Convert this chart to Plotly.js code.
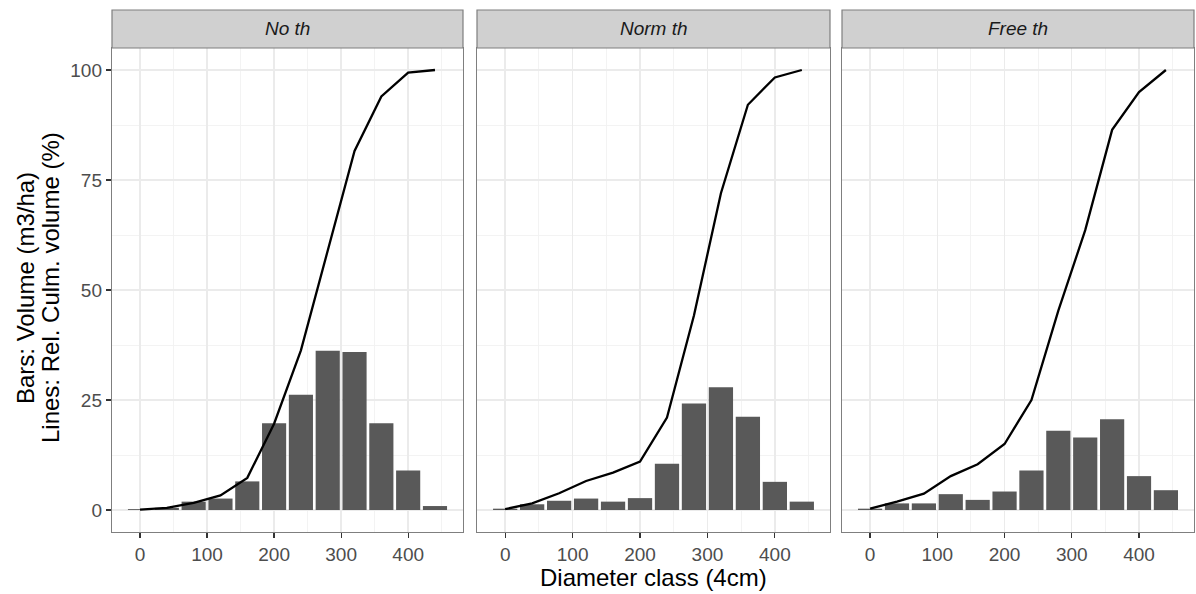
<!DOCTYPE html>
<html>
<head>
<meta charset="utf-8">
<script src="https://cdn.plot.ly/plotly-3.0.1.min.js"></script>
<style>html,body{margin:0;padding:0;background:#fff;}#chart{width:1196px;height:594px;}</style>
</head>
<body>
<div id="chart"></div>
<script>
// Diameter classes (x positions)
const diamClass = [0, 40, 80, 120, 160, 200, 240, 280, 320, 360, 400, 440];
// Panel names
const panelNames = ['No th', 'Norm th', 'Free th'];
// Bars: Volume (m3/ha)
const volNoTh   = [0.2, 0.5, 1.9, 2.6, 6.5, 19.7, 26.2, 36.2, 35.9, 19.7, 9.0, 0.9];
const volNormTh = [0.3, 1.3, 2.1, 2.6, 1.9, 2.7, 10.5, 24.2, 27.9, 21.2, 6.4, 1.9];
const volFreeTh = [0.3, 1.5, 1.5, 3.6, 2.3, 4.2, 9.0, 18.0, 16.5, 20.6, 7.7, 4.5];
// Lines: relative cumulative volume (%)
const cumNoTh   = [0.1, 0.5, 1.6, 3.3, 7.3, 19.6, 36.3, 59.2, 81.6, 94.0, 99.4, 100];
const cumNormTh = [0.2, 1.5, 3.8, 6.6, 8.5, 11.0, 21.0, 44.2, 72.0, 92.1, 98.3, 100];
const cumFreeTh = [0.3, 1.9, 3.7, 7.7, 10.4, 15.0, 25.0, 45.3, 63.6, 86.4, 95.0, 100];
// Axis ticks
const xTickStep = 100;
const yTickStep = 25;
const xTitle = 'Diameter class (4cm)';
const yTitleLines = ['Bars: Volume (m3/ha)', 'Lines: Rel. Culm. volume (%)'];

const vols = [volNoTh, volNormTh, volFreeTh];
const cums = [cumNoTh, cumNormTh, cumFreeTh];

const W = 1196, H = 594;
const mL = 112, mR = 2, mT = 48, mB = 62;
const plotW = W - mL - mR, plotH = H - mT - mB;
const pxDomains = [[112, 463], [477, 830], [842, 1194]];
const domains = pxDomains.map(d => [(d[0] - mL) / plotW, (d[1] - mL) / plotW]);

const FONT = 'Liberation Sans, Arial, Helvetica, sans-serif';
const borderColor = '#7f7f7f';
const traces = [];
for (let i = 0; i < 3; i++) {
  const xa = i === 0 ? 'x' : 'x' + (i + 1);
  const ya = i === 0 ? 'y' : 'y' + (i + 1);
  traces.push({
    type: 'bar', x: diamClass, y: vols[i], width: diamClass.map(() => 36),
    marker: {color: '#595959', line: {width: 0}},
    xaxis: xa, yaxis: ya, showlegend: false, hoverinfo: 'x+y'
  });
  traces.push({
    type: 'scatter', mode: 'lines', x: diamClass, y: cums[i],
    line: {color: '#000000', width: 2.3},
    xaxis: xa, yaxis: ya, showlegend: false
  });
}

const layout = {
  width: W, height: H,
  margin: {l: mL, r: mR, t: mT, b: mB},
  paper_bgcolor: '#ffffff', plot_bgcolor: '#ffffff',
  font: {family: FONT},
  shapes: [], annotations: []
};

for (let i = 0; i < 3; i++) {
  const xk = i === 0 ? 'xaxis' : 'xaxis' + (i + 1);
  const yk = i === 0 ? 'yaxis' : 'yaxis' + (i + 1);
  const ya = i === 0 ? 'y' : 'y' + (i + 1);
  const xa = i === 0 ? 'x' : 'x' + (i + 1);
  layout[xk] = {
    domain: domains[i], anchor: ya, range: [-41.8, 481.8],
    tickmode: 'linear', tick0: 0, dtick: xTickStep,
    ticks: 'outside', ticklen: 5, tickwidth: 1.2, tickcolor: '#333333',
    tickfont: {size: 19, color: '#4D4D4D', family: FONT},
    showline: true, mirror: true, linecolor: borderColor, linewidth: 1.2,
    showgrid: true, gridcolor: '#EBEBEB', gridwidth: 1.4, zeroline: false,
    minor: {dtick: 50, tick0: 0, showgrid: true, gridcolor: '#F2F2F2', gridwidth: 0.9, ticks: ''},
    fixedrange: true
  };
  layout[yk] = {
    domain: [0, 1], anchor: xa, range: [-5, 105],
    tickmode: 'linear', tick0: 0, dtick: yTickStep,
    ticks: i === 0 ? 'outside' : '', ticklen: 5, tickwidth: 1.2, tickcolor: '#333333',
    showticklabels: i === 0,
    tickfont: {size: 19, color: '#4D4D4D', family: FONT},
    showline: true, mirror: true, linecolor: borderColor, linewidth: 1.2,
    showgrid: true, gridcolor: '#EBEBEB', gridwidth: 1.4, zeroline: false,
    minor: {dtick: 12.5, tick0: 0, showgrid: true, gridcolor: '#F2F2F2', gridwidth: 0.9, ticks: ''},
    fixedrange: true
  };
  if (i > 0) layout[yk].matches = 'y';
  // strip
  const stripTop = 1 + (mT - 10) / plotH;
  layout.shapes.push({
    type: 'rect', xref: 'paper', yref: 'paper',
    x0: domains[i][0], x1: domains[i][1], y0: 1, y1: stripTop,
    fillcolor: '#D0D0D0', line: {color: borderColor, width: 1.2}, layer: 'above'
  });
  layout.annotations.push({
    xref: 'paper', yref: 'paper',
    x: (domains[i][0] + domains[i][1]) / 2, y: (1 + stripTop) / 2,
    xanchor: 'center', yanchor: 'middle', showarrow: false,
    text: '<i>' + panelNames[i] + '</i>',
    font: {size: 19, color: '#1A1A1A', family: FONT}
  });
}

// x axis title (centered on middle panel)
layout.annotations.push({
  xref: 'paper', yref: 'paper',
  x: (domains[1][0] + domains[1][1]) / 2, y: 0,
  xanchor: 'center', yanchor: 'middle', yshift: -(577 - (mT + plotH)),
  showarrow: false, text: xTitle,
  font: {size: 24, color: '#000000', family: FONT}
});
// y axis title (two lines)
const yTitleX = [25, 50];
yTitleLines.forEach((t, k) => {
  layout.annotations.push({
    xref: 'paper', yref: 'paper',
    x: (yTitleX[k] - mL) / plotW, y: 0.5 + ((mT + plotH / 2) - 288) / plotH,
    xanchor: 'center', yanchor: 'middle', textangle: -90,
    showarrow: false, text: t,
    font: {size: 24, color: '#000000', family: FONT}
  });
});

Plotly.newPlot('chart', traces, layout, {displayModeBar: false, staticPlot: true});
</script>
</body>
</html>
